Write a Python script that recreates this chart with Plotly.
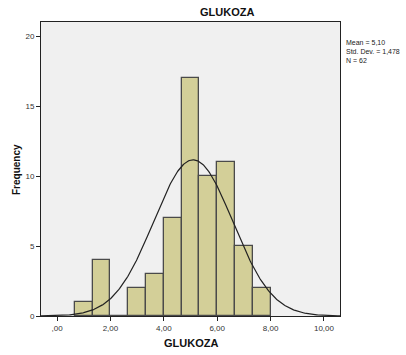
import numpy as np
import plotly.graph_objects as go

# Data
bin_start = 2.0 / 3.0
bin_width = 2.0 / 3.0
counts = [1, 4, 0, 2, 3, 7, 17, 10, 11, 5, 2]
mean_val = 5.10
sd_val = 1.478
n_val = 62
x_tickvals = [0, 2, 4, 6, 8, 10]
x_ticktext = [",00", "2,00", "4,00", "6,00", "8,00", "10,00"]
y_tickvals = [0, 5, 10, 15, 20]

centers = [bin_start + bin_width * (i + 0.5) for i in range(len(counts))]

xs = np.linspace(-0.6, 10.6, 400)
ys = n_val * bin_width * np.exp(-0.5 * ((xs - mean_val) / sd_val) ** 2) / (sd_val * np.sqrt(2 * np.pi))

W, H = 406, 355
L, R, T, B = 41, 66, 22, 39

def px_x(x):
    return (x - L) / (W - L - R)

def px_y(y):
    return (H - B - y) / (H - T - B)

fig = go.Figure()
fig.add_trace(go.Bar(
    x=centers, y=counts, width=[bin_width] * len(counts),
    marker=dict(color="#D3CF98", line=dict(color="#4a4a4a", width=1.3)),
    hoverinfo="skip",
))
fig.add_trace(go.Scatter(
    x=xs, y=ys, mode="lines",
    line=dict(color="#222222", width=1.2),
    hoverinfo="skip",
))

font_family = "Liberation Sans, Arial, sans-serif"
legend_text = "<br>".join([
    "Mean = " + f"{mean_val:.2f}".replace(".", ","),
    "Std. Dev. = " + f"{sd_val:.3f}".replace(".", ","),
    f"N = {n_val}",
])

annotations = [
    dict(text=legend_text, xref="paper", yref="paper", x=px_x(344), y=px_y(37),
         xanchor="left", yanchor="top", align="left", showarrow=False,
         font=dict(size=7, color="#222222", family=font_family)),
    dict(text="<b>GLUKOZA</b>", xref="paper", yref="paper", x=px_x(227), y=px_y(12),
         xanchor="center", yanchor="middle", showarrow=False,
         font=dict(size=11, color="#111111", family=font_family)),
    dict(text="<b>GLUKOZA</b>", xref="paper", yref="paper", x=px_x(191), y=px_y(343),
         xanchor="center", yanchor="middle", showarrow=False,
         font=dict(size=11, color="#111111", family=font_family)),
    dict(text="<b>Frequency</b>", xref="paper", yref="paper", x=px_x(16), y=px_y(170),
         xanchor="center", yanchor="middle", textangle=-90, showarrow=False,
         font=dict(size=10, color="#111111", family=font_family)),
]

fig.update_layout(
    width=W, height=H,
    margin=dict(l=L, r=R, t=T, b=B, autoexpand=False),
    paper_bgcolor="white",
    plot_bgcolor="#F0F0F0",
    showlegend=False,
    bargap=0,
    font=dict(family=font_family, size=8, color="#333333"),
    xaxis=dict(range=[-0.6, 10.6], tickvals=x_tickvals, ticktext=x_ticktext,
               showgrid=False, zeroline=False, showline=True, linecolor="#222222",
               linewidth=1, mirror=True, ticks="outside", ticklen=4, tickcolor="#222222",
               tickfont=dict(size=8, color="#333333"), automargin=False),
    yaxis=dict(range=[0, 21], tickvals=y_tickvals,
               showgrid=False, zeroline=False, showline=True, linecolor="#222222",
               linewidth=1, mirror=True, ticks="outside", ticklen=4, tickcolor="#222222",
               tickfont=dict(size=8, color="#333333"), automargin=False),
    annotations=annotations,
)

fig.write_html("out.html")
